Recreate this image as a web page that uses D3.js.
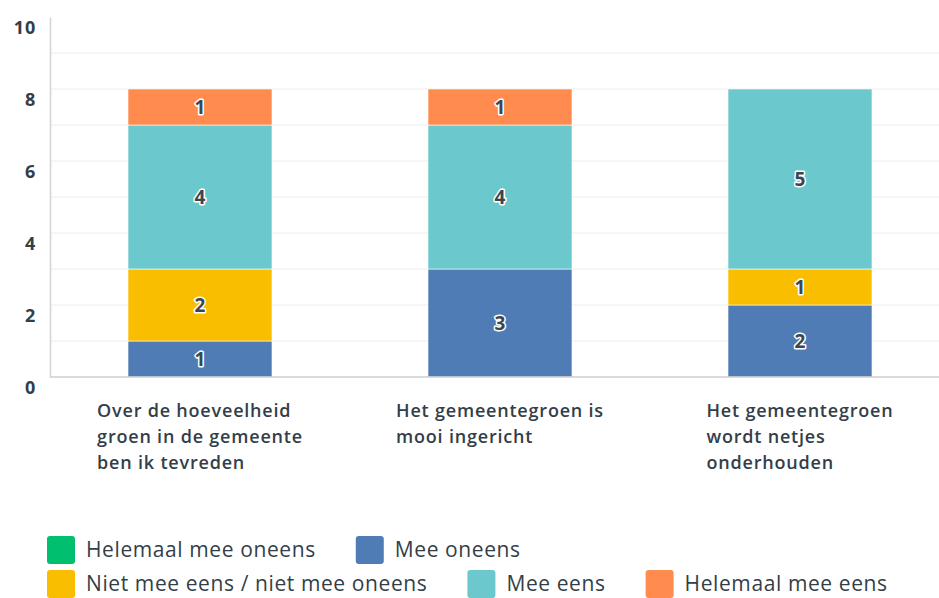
<!DOCTYPE html>
<html>
<head>
<meta charset="utf-8">
<script src="https://cdn.jsdelivr.net/npm/d3@7"></script>
<style>
  body { margin: 0; background: #fff; }
  svg { display: block; font-family: "Open Sans", sans-serif; }
</style>
</head>
<body>
<svg id="chart"></svg>
<script>
var svgWidth = 939;
var svgHeight = 598;

// data
var categories = [
  ["Over de hoeveelheid", "groen in de gemeente", "ben ik tevreden"],
  ["Het gemeentegroen is", "mooi ingericht"],
  ["Het gemeentegroen", "wordt netjes", "onderhouden"]
];
var seriesNames = ["Helemaal mee oneens", "Mee oneens", "Niet mee eens / niet mee oneens", "Mee eens", "Helemaal mee eens"];
var seriesColors = ["#00bf6f", "#507cb6", "#f9be00", "#6bc8cd", "#ff8b4f"];
var helemaalOneens = [0, 0, 0];
var meeOneens = [1, 3, 2];
var neutraal = [2, 0, 1];
var meeEens = [4, 4, 5];
var helemaalEens = [1, 1, 0];
var yTicks = [0, 2, 4, 6, 8, 10];

var values = [helemaalOneens, meeOneens, neutraal, meeEens, helemaalEens];
var rows = categories.map(function(c, i) {
  var r = { idx: i };
  seriesNames.forEach(function(s, j) { r[s] = values[j][i]; });
  return r;
});

var textColor = "#333e48";

var svg = d3.select("#chart")
  .attr("width", svgWidth)
  .attr("height", svgHeight);

var x = d3.scaleBand()
  .domain(d3.range(categories.length))
  .range([50, 950])
  .paddingInner(0.52)
  .paddingOuter(0.26);

var y = d3.scaleLinear()
  .domain([0, 10])
  .range([377, 17]);

// grid lines
svg.append("g")
  .selectAll("line")
  .data(d3.range(1, 10))
  .join("line")
    .attr("x1", 50)
    .attr("x2", svgWidth)
    .attr("y1", d => y(d))
    .attr("y2", d => y(d))
    .attr("stroke", "#ececec")
    .attr("stroke-width", 1);

// y axis
var yAxis = svg.append("g")
  .attr("transform", "translate(50,0)")
  .call(d3.axisLeft(y).tickValues(yTicks).tickSize(0).tickPadding(14));
yAxis.select(".domain").attr("stroke", "#d4d4d4").attr("stroke-width", 1.5);
yAxis.selectAll("text")
  .attr("dy", "0.9em")
  .attr("fill", textColor)
  .attr("font-size", 18)
  .attr("font-weight", 700)
  .attr("letter-spacing", 0.8)
  .attr("font-family", "'Open Sans', sans-serif");

// stacked bars
var stack = d3.stack().keys(seriesNames);
var stacked = stack(rows);

var layers = svg.append("g")
  .selectAll("g")
  .data(stacked)
  .join("g")
    .attr("fill", (d, i) => seriesColors[i]);

layers.selectAll("rect")
  .data(d => d.filter(p => p[1] - p[0] > 0))
  .join("rect")
    .attr("x", d => x(d.data.idx))
    .attr("width", x.bandwidth())
    .attr("y", d => y(d[1]))
    .attr("height", d => y(d[0]) - y(d[1]))
    .attr("stroke", "#fff")
    .attr("stroke-width", 0.6);

// x baseline
svg.append("line")
  .attr("x1", 50)
  .attr("x2", svgWidth)
  .attr("y1", y(0))
  .attr("y2", y(0))
  .attr("stroke", "#cfcfcf")
  .attr("stroke-width", 1.5);

// value labels
var labelData = [];
stacked.forEach(function(layer) {
  layer.forEach(function(p) {
    var v = p[1] - p[0];
    if (v > 0) labelData.push({ v: v, cx: x(p.data.idx) + x.bandwidth() / 2, cy: y((p[0] + p[1]) / 2) });
  });
});

svg.append("g")
  .selectAll("text")
  .data(labelData)
  .join("text")
    .attr("x", d => d.cx)
    .attr("y", d => d.cy)
    .attr("dy", "0.36em")
    .attr("text-anchor", "middle")
    .attr("font-size", 19)
    .attr("font-weight", 700)
    .attr("fill", "#3d4650")
    .attr("stroke", "#fff")
    .attr("stroke-width", 3)
    .attr("stroke-linejoin", "round")
    .attr("paint-order", "stroke")
    .text(d => d.v);

// category labels, block centred under bar, lines left-aligned
var catG = svg.append("g")
  .selectAll("text")
  .data(categories)
  .join("text")
    .attr("font-size", 18)
    .attr("font-weight", 600)
    .attr("letter-spacing", 0.8)
    .attr("fill", textColor);

catG.selectAll("tspan")
  .data(d => d)
  .join("tspan")
    .attr("x", 0)
    .attr("y", (d, i) => 417 + i * 26)
    .text(d => d);

catG.attr("transform", function(d, i) {
  var w = this.getBBox().width;
  return "translate(" + (x(i) + x.bandwidth() / 2 - w / 2) + ",0)";
});

// legend, flowing left to right and wrapping
var legend = svg.append("g");
var lx = 47, ly = 536, maxX = 930;
seriesNames.forEach(function(name, i) {
  var item = legend.append("g");
  item.append("rect")
    .attr("width", 28)
    .attr("height", 28)
    .attr("rx", 3)
    .attr("fill", seriesColors[i]);
  item.append("text")
    .attr("x", 39)
    .attr("y", 14)
    .attr("dy", "0.34em")
    .attr("font-size", 21)
    .attr("letter-spacing", 0.6)
    .attr("fill", textColor)
    .text(name);
  var w = item.node().getBBox().width;
  if (lx + w > maxX) {
    lx = 47;
    ly += 34;
  }
  item.attr("transform", "translate(" + lx + "," + ly + ")");
  lx += w + 40;
});
</script>
</body>
</html>
